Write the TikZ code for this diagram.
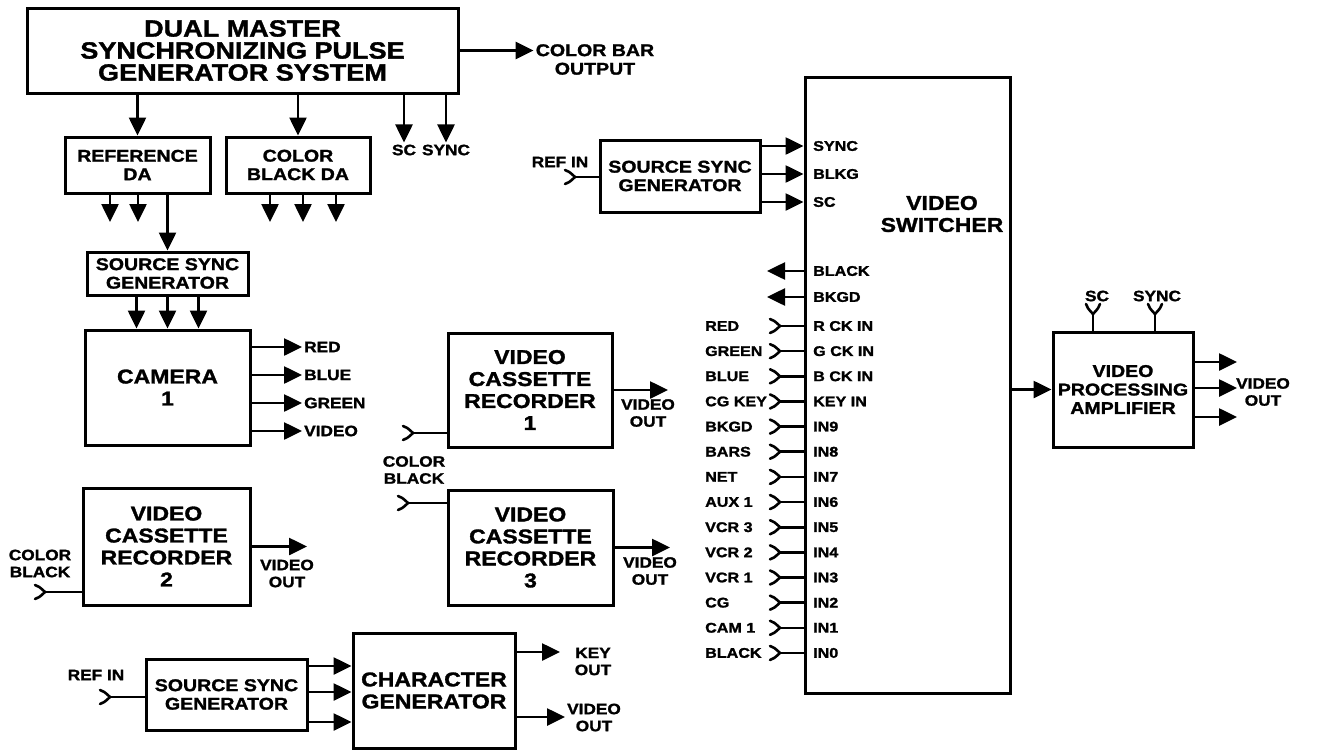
\documentclass[tikz,border=0pt]{standalone}
\usepackage{fontspec}
\setmainfont{Liberation Sans}[FakeStretch=1.15,BoldFeatures={FakeBold=1.5}]
\usetikzlibrary{arrows.meta}
\newcommand\txtbig{\fontsize{23.5}{22}\selectfont\bfseries}
\newcommand\txtbox{\fontsize{20}{22}\selectfont\bfseries}
\newcommand\txtmid{\fontsize{17}{18.5}\selectfont\bfseries}
\newcommand\txtsm{\fontsize{15}{17}\selectfont\bfseries}
\newcommand\txtport{\fontsize{14}{16}\selectfont\bfseries}

\begin{document}
\begin{tikzpicture}[x=1pt,y=-1pt]
\tikzset{
  blockbox/.style={draw,line width=3pt,inner sep=2pt,align=center,font=\txtbox},
  sig/.style={line width=2.6pt,-{Triangle[length=18pt,width=17pt]}},
  wire/.style={line width=2.6pt},
  lbl/.style={inner sep=2pt,align=center,font=\txtsm},
  portlbl/.style={inner sep=2pt,anchor=west,font=\txtport},
  jack/.pic={\draw[line width=2.6pt,line join=miter,line cap=round] (-10,-7) .. controls (-6,-5.5) .. (0,0) .. controls (-6,5.5) .. (-10,7);}
}
\useasboundingbox (0,0) rectangle (1323,755);
\node[blockbox,font=\txtbig,minimum width=431,minimum height=85] (master) at (242.5,50.5) {DUAL MASTER\\SYNCHRONIZING PULSE\\GENERATOR SYSTEM};
\node[blockbox,font=\txtmid,minimum width=145,minimum height=56] (refda) at (137.5,165) {REFERENCE\\DA};
\node[blockbox,font=\txtmid,minimum width=144,minimum height=56] (cbda) at (298,165) {COLOR\\BLACK DA};
\node[lbl,font=\txtmid] (cbar) at (595,59.5) {COLOR BAR\\OUTPUT};
\node[lbl] (scout) at (404,150) {SC};
\node[lbl] (syncout) at (446,150) {SYNC};
\draw[sig] (refda.north |- master.south) -- (refda.north);
\draw[sig] (cbda.north |- master.south) -- (cbda.north);
\draw[sig] (scout.north |- master.south) -- (scout.north);
\draw[sig] (syncout.north |- master.south) -- (syncout.north);
\draw[sig] (master.east) -- (master.east -| cbar.west);
\coordinate (ra1) at (110,222);
\coordinate (ra2) at (138,222);
\draw[sig] (refda.south -| ra1) -- (ra1);
\draw[sig] (refda.south -| ra2) -- (ra2);
\foreach \x [count=\i] in {270,303,336} {
  \coordinate (cb\i) at (\x,222);
  \draw[sig] (cbda.south -| cb\i) -- (cb\i);
}
\node[blockbox,font=\txtmid,minimum width=161,minimum height=43] (ssgcam) at (167.5,273.5) {SOURCE SYNC\\GENERATOR};
\draw[sig] (ssgcam.north |- refda.south) -- (ssgcam.north);
\node[blockbox,minimum width=165,minimum height=115] (cam) at (167.5,387.5) {CAMERA\\1};
\foreach \dx in {-31,0,31}
  \draw[sig] ([xshift=\dx pt]ssgcam.south) -- ([xshift=\dx pt]cam.north);
\foreach \lab [count=\i] in {RED,BLUE,GREEN,VIDEO} {
  \node[lbl,anchor=west] (camout\i) at (302,{347+28*(\i-1)}) {\lab};
  \draw[sig] (cam.east |- camout\i.west) -- (camout\i.west);
}
\node[blockbox,minimum width=164,minimum height=114] (vcra) at (530,390) {VIDEO\\CASSETTE\\RECORDER\\1};
\coordinate (vcraout) at (668,390);
\draw[sig] (vcra.east) -- (vcraout);
\node[lbl] (vcraoutl) at (648,413) {VIDEO\\OUT};
\coordinate (vcrain) at (413,433);
\draw[wire] (vcrain) -- (vcrain -| vcra.west);
\pic at (vcrain) {jack};
\node[lbl] (vcrblk) at (414,470) {COLOR\\BLACK};
\node[blockbox,minimum width=165,minimum height=115] (vcrc) at (530.5,547.5) {VIDEO\\CASSETTE\\RECORDER\\3};
\coordinate (vcrcout) at (670,547.5);
\draw[sig] (vcrc.east) -- (vcrcout);
\node[lbl] (vcrcoutl) at (650,571) {VIDEO\\OUT};
\coordinate (vcrcin) at (408,503);
\draw[wire] (vcrcin) -- (vcrcin -| vcrc.west);
\pic at (vcrcin) {jack};
\node[blockbox,minimum width=167,minimum height=117] (vcrb) at (166.5,546.5) {VIDEO\\CASSETTE\\RECORDER\\2};
\coordinate (vcrbout) at (307,546.5);
\draw[sig] (vcrb.east) -- (vcrbout);
\node[lbl] (vcrboutl) at (287,573.5) {VIDEO\\OUT};
\coordinate (vcrbin) at (45,592);
\draw[wire] (vcrbin) -- (vcrbin -| vcrb.west);
\pic at (vcrbin) {jack};
\node[lbl] (vcrbblk) at (40,563.5) {COLOR\\BLACK};
\node[blockbox,font=\txtmid,minimum width=161,minimum height=71] (ssgcg) at (226.5,694.5) {SOURCE SYNC\\GENERATOR};
\node[lbl] (cgref) at (96,675) {REF IN};
\coordinate (cgrefin) at (110,697);
\draw[wire] (cgrefin) -- (cgrefin -| ssgcg.west);
\pic at (cgrefin) {jack};
\node[blockbox,minimum width=162,minimum height=115] (chargen) at (434,690.5) {CHARACTER\\GENERATOR};
\foreach \yy in {666,692,722}
  \draw[sig] (ssgcg.east |- 0,\yy) -- (chargen.west |- 0,\yy);
\coordinate (keyend) at (560,652);
\draw[sig] (chargen.east |- keyend) -- (keyend);
\node[lbl] (keyl) at (593,661.5) {KEY\\OUT};
\coordinate (cgvend) at (565,717);
\draw[sig] (chargen.east |- cgvend) -- (cgvend);
\node[lbl] (cgvl) at (594,717.5) {VIDEO\\OUT};
\node[blockbox,font=\txtmid,minimum width=160,minimum height=72] (ssgsw) at (680,176) {SOURCE SYNC\\GENERATOR};
\node[lbl] (swref) at (560,162) {REF IN};
\coordinate (swrefin) at (575,177);
\draw[wire] (swrefin) -- (swrefin -| ssgsw.west);
\pic at (swrefin) {jack};
\node[draw,line width=3pt,minimum width=205,minimum height=616] (sw) at (907.5,385) {};
\node[align=center,font=\txtbox] (swlbl) at (942,214) {VIDEO\\SWITCHER};
\foreach \lab/\yy in {SYNC/146,BLKG/174,SC/202} {
  \node[portlbl] (p\lab) at (811,\yy) {\lab};
  \draw[sig] (ssgsw.east |- p\lab.west) -- (sw.west |- p\lab.west);
}
\foreach \lab/\yy in {BLACK/271,BKGD/297} {
  \node[portlbl] (q\lab) at (811,\yy) {\lab};
  \coordinate (e\lab) at (767,\yy);
  \draw[sig] (sw.west |- q\lab.west) -- (e\lab);
}
\foreach \lab/\port [count=\i from 0] in {RED/R CK IN,GREEN/G CK IN,BLUE/B CK IN,CG KEY/KEY IN,BKGD/IN9,BARS/IN8,NET/IN7,AUX 1/IN6,VCR 3/IN5,VCR 2/IN4,VCR 1/IN3,CG/IN2,CAM 1/IN1,BLACK/IN0} {
  \pgfmathsetmacro\yy{326+25.15*\i}
  \coordinate (in\i) at (780,\yy);
  \node[portlbl] (src\i) at (703,\yy) {\lab};
  \node[portlbl] (port\i) at (811,\yy) {\port};
  \draw[wire] (in\i) -- (in\i -| sw.west);
  \pic at (in\i) {jack};
}
\node[blockbox,font=\txtmid,minimum width=140,minimum height=115] (pamp) at (1123,389.5) {VIDEO\\PROCESSING\\AMPLIFIER};
\draw[sig] (pamp.west -| sw.east) -- (pamp.west);
\node[lbl] (pampscl) at (1097,296) {SC};
\node[lbl] (pampsyncl) at (1157,296) {SYNC};
\coordinate (pampsc) at (1093,314);
\coordinate (pampsync) at (1155,314);
\draw[wire] (pampsc) -- (pampsc |- pamp.north);
\draw[wire] (pampsync) -- (pampsync |- pamp.north);
\pic[rotate=-90] at (pampsc) {jack};
\pic[rotate=-90] at (pampsync) {jack};
\foreach \yy [count=\i] in {362,388,417} {
  \coordinate (pout\i) at (1237,\yy);
  \draw[sig] (pamp.east |- pout\i) -- (pout\i);
}
\node[lbl] (poutl) at (1263,392) {VIDEO\\OUT};
\end{tikzpicture}
\end{document}
